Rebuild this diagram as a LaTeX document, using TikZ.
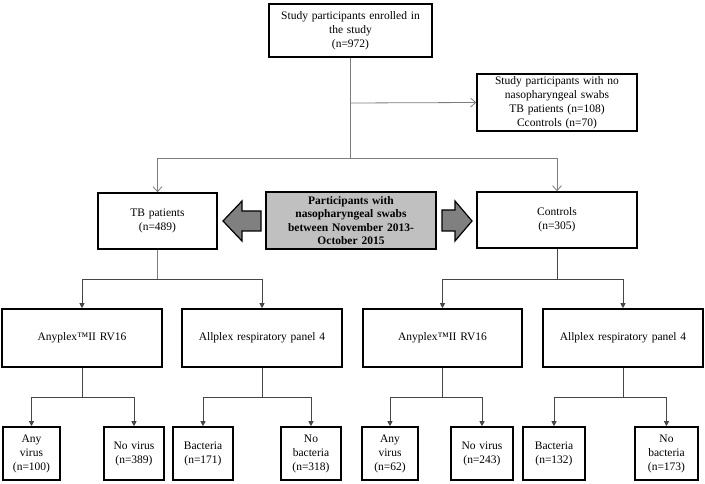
\documentclass[tikz,border=0pt]{standalone}
\usepackage{fontspec}
\setmainfont{Liberation Serif}
\usetikzlibrary{arrows.meta}
\definecolor{lineA}{RGB}{125,125,125}
\definecolor{lineB}{RGB}{70,70,70}
\definecolor{boxgray}{RGB}{192,192,192}
\definecolor{arrgray}{RGB}{128,128,128}
\begin{document}
\begin{tikzpicture}[x=1pt,y=-1pt,
  font=\fontsize{11.5}{14}\selectfont,
  box/.style={draw=black,line width=1.6pt,fill=white,inner sep=1pt,align=center,
    minimum width=#1,text width=#1-8pt},
  openarr/.style={draw=lineA,line width=0.8pt,-{Straight Barb[length=5pt,width=9pt]}},
  plainline/.style={draw=lineA,line width=0.8pt},
  filarr/.style={draw=lineB,line width=0.8pt,-{Triangle[length=5pt,width=5pt]}},
  plainB/.style={draw=lineB,line width=0.8pt},
  blockarr/.style={draw=black,line width=1.2pt,fill=arrgray,line join=miter}]
\useasboundingbox (0,0) rectangle (705,484);

% level 1
\node[box=163pt,minimum height=53pt] (top) at (350.5,30.5)
  {Study participants enrolled in\\the study\\(n=972)};
\node[box=160pt,minimum height=57pt] (noswab) at (557,102.5)
  {Study participants with no\\nasopharyngeal swabs\\TB patients (n=108)\\Ccontrols (n=70)};

% level 2
\node[box=119pt,minimum height=56pt] (tb) at (157.5,221) {TB patients\\(n=489)};
\node[box=170pt,minimum height=57pt,fill=boxgray,font=\fontsize{11.5}{13.5}\selectfont\bfseries] (mid) at (351,220.5)
  {Participants with\\nasopharyngeal swabs\\between November 2013-\\October 2015};
\node[box=160pt,minimum height=56pt] (ctrl) at (557,220) {Controls\\(n=305)};

% level 3
\node[box=160pt,minimum height=58pt] (any1) at (82,338) {Anyplex™II RV16};
\node[box=160pt,minimum height=58pt] (all1) at (262,338) {Allplex respiratory panel 4};
\node[box=159pt,minimum height=58pt] (any2) at (442.5,338) {Anyplex™II RV16};
\node[box=160pt,minimum height=58pt] (all2) at (623,338) {Allplex respiratory panel 4};

% level 4
\node[box=57pt,minimum height=53pt] (b1) at (31.5,453.5) {Any\\virus\\(n=100)};
\node[box=60pt,minimum height=53pt] (b2) at (134,453.5) {No virus\\(n=389)};
\node[box=60pt,minimum height=53pt] (b3) at (203,453.5) {Bacteria\\(n=171)};
\node[box=60pt,minimum height=53pt] (b4) at (311,453.5) {No\\bacteria\\(n=318)};
\node[box=56pt,minimum height=53pt] (b5) at (390,453.5) {Any\\virus\\(n=62)};
\node[box=62pt,minimum height=53pt] (b6) at (482,453.5) {No virus\\(n=243)};
\node[box=62pt,minimum height=53pt] (b7) at (554,453.5) {Bacteria\\(n=132)};
\node[box=63pt,minimum height=53pt] (b8) at (666.5,453.5) {No\\bacteria\\(n=173)};

% connectors level 1 -> 2
\coordinate (j1) at (350.5,158);
\coordinate (j0) at (350.5,103);
\draw[plainline] (top.south) -- (j1);
\draw[openarr] (j0) -- (noswab.west);
\draw[openarr] (j1) -| (tb.north);
\draw[openarr] (j1) -| (ctrl.north);

% connectors level 2 -> 3
\coordinate (j2) at (157.5,279);
\coordinate (j3) at (557,279);
\draw[plainline] (tb.south) -- (j2);
\draw[filarr] (j2) -| (any1.north);
\draw[filarr] (j2) -| (all1.north);
\draw[plainB] (ctrl.south) -- (j3);
\draw[filarr] (j3) -| (any2.north);
\draw[filarr] (j3) -| (all2.north);

% connectors level 3 -> 4
\coordinate (k1) at (82,397);
\coordinate (k2) at (262,397);
\coordinate (k3) at (442.5,397);
\coordinate (k4) at (623,397);
\draw[plainB] (any1.south) -- (k1);
\draw[filarr] (k1) -| (b1.north);
\draw[filarr] (k1) -| (b2.north);
\draw[plainB] (all1.south) -- (k2);
\draw[filarr] (k2) -| (b3.north);
\draw[filarr] (k2) -| (b4.north);
\draw[plainB] (any2.south) -- (k3);
\draw[filarr] (k3) -| (b5.north);
\draw[filarr] (k3) -| (b6.north);
\draw[plainB] (all2.south) -- (k4);
\draw[filarr] (k4) -| (b7.north);
\draw[filarr] (k4) -| (b8.north);

% block arrows
\path[blockarr] (223,221) -- (242,201) -- (242,211) -- (261,211) -- (261,231) -- (242,231) -- (242,241) -- cycle;
\path[blockarr] (472,221) -- (455,201) -- (455,210) -- (442,210) -- (442,231) -- (455,231) -- (455,241) -- cycle;
\end{tikzpicture}
\end{document}
